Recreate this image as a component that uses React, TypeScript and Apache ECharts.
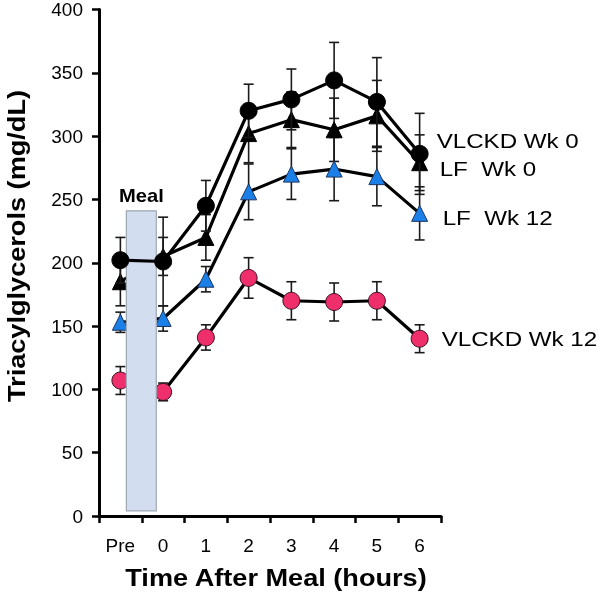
import React, { useEffect, useRef } from "react";
import * as echarts from "echarts";

const categories = ["Pre", "0", "1", "2", "3", "4", "5", "6"];
const seriesNames = ["VLCKD Wk 0", "LF  Wk 0", "LF  Wk 12", "VLCKD Wk 12"];

const vlckdWk0 = [202, 201, 245, 320, 329, 344, 327, 286];
const vlckdWk0Err = [18, 35, 20, 21, 24, 30, 35, 32];

const lfWk0 = [185, 205, 220, 302, 313, 305, 316, 279];
const lfWk0Err = [19, 15, 18, 23, 22, 25, 28, 22];

const lfWk12 = [153, 156, 187, 256, 270, 274, 268, 239];
const lfWk12Err = [8, 10, 10, 22, 20, 25, 23, 21];

const vlckdWk12 = [107, 98, 141, 188, 170, 169, 170, 140];
const vlckdWk12Err = [11, 7, 10, 16, 15, 15, 15, 11];

const yMin = 0;
const yMax = 400;
const yInterval = 50;

const mealLabel = "Meal";
const mealBottom = 4;
const mealTop = 241;

const xAxisTitle = "Time After Meal (hours)";
const yAxisTitle = "Triacylglycerols (mg/dL)";

const FONT = '"Liberation Sans", Arial, sans-serif';

function errorSeries(values: number[], errs: number[], z: number) {
  return {
    type: "custom",
    z,
    silent: true,
    data: values.map((v, i) => [i, v - errs[i], v + errs[i]]),
    encode: { x: 0, y: [1, 2] },
    renderItem: (params: any, api: any) => {
      const x = api.value(0);
      const lo = api.coord([x, api.value(1)]);
      const hi = api.coord([x, api.value(2)]);
      const cap = 5;
      const style = { stroke: "#1a1a1a", lineWidth: 1.6 };
      return {
        type: "group",
        children: [
          { type: "line", shape: { x1: lo[0], y1: lo[1], x2: hi[0], y2: hi[1] }, style },
          { type: "line", shape: { x1: lo[0] - cap, y1: lo[1], x2: lo[0] + cap, y2: lo[1] }, style },
          { type: "line", shape: { x1: hi[0] - cap, y1: hi[1], x2: hi[0] + cap, y2: hi[1] }, style },
        ],
      };
    },
  };
}

function lineSeries(name: string, values: number[], symbol: string, size: number, fill: string, border: string, z: number) {
  return {
    type: "line",
    name,
    z,
    data: values,
    symbol,
    symbolSize: size,
    showAllSymbol: true,
    lineStyle: { color: "#000", width: 3.2 },
    itemStyle: { color: fill, borderColor: border, borderWidth: 1 },
  };
}

const labelOffsets = [
  [17, -13],
  [20, 6],
  [23, 5],
  [22, 0],
];

export default function App() {
  const ref = useRef<HTMLDivElement>(null);
  useEffect(() => {
    if (!ref.current) return;
    const chart = echarts.init(ref.current, undefined, { renderer: "svg" });
    const lastValues = [vlckdWk0, lfWk0, lfWk12, vlckdWk12].map((a) => a[a.length - 1]);
    const lastIdx = categories.length - 1;

    const option: any = {
      animation: false,
      grid: { left: 99, right: 159, top: 8, bottom: 82, containLabel: false },
      xAxis: {
        type: "category",
        data: categories,
        boundaryGap: true,
        axisLine: { show: true, lineStyle: { color: "#000", width: 3 } },
        axisTick: { show: true, length: 7, interval: 0, lineStyle: { color: "#000", width: 2.5 } },
        axisLabel: { fontSize: 19, color: "#000", margin: 20, fontFamily: FONT, interval: 0 },
        splitLine: { show: false },
      },
      yAxis: {
        type: "value",
        min: yMin,
        max: yMax,
        interval: yInterval,
        axisLine: { show: true, lineStyle: { color: "#000", width: 3 } },
        axisTick: { show: true, length: 7, lineStyle: { color: "#000", width: 2.5 } },
        axisLabel: { fontSize: 19, color: "#000", margin: 16, fontFamily: FONT },
        splitLine: { show: false },
      },
      graphic: [
        {
          type: "text",
          x: 17,
          y: 246,
          rotation: Math.PI / 2,
          scaleX: 1.18,
          style: {
            text: yAxisTitle,
            font: `bold 23px ${FONT}`,
            fill: "#000",
            textAlign: "center",
            textVerticalAlign: "middle",
          },
        },
        {
          type: "text",
          x: 276,
          y: 578,
          scaleX: 1.18,
          style: {
            text: xAxisTitle,
            font: `bold 23px ${FONT}`,
            fill: "#000",
            textAlign: "center",
            textVerticalAlign: "middle",
          },
        },
      ],
      series: [
        errorSeries(lfWk12, lfWk12Err, 1),
        errorSeries(vlckdWk12, vlckdWk12Err, 1),
        errorSeries(lfWk0, lfWk0Err, 1),
        lineSeries(seriesNames[2], lfWk12, "triangle", 16, "#1a80e8", "#1d3560", 2),
        lineSeries(seriesNames[3], vlckdWk12, "circle", 17, "#ef2e6c", "#3a1020", 2),
        lineSeries(seriesNames[1], lfWk0, "triangle", 16, "#000", "#000", 2),
        {
          type: "custom",
          z: 3,
          silent: true,
          data: [[0, mealBottom, mealTop]],
          encode: { x: 0, y: [1, 2] },
          renderItem: (params: any, api: any) => {
            const p0 = api.coord([0, api.value(1)]);
            const p1 = api.coord([1, api.value(2)]);
            const band = api.size([1, 0])[0];
            const x0 = p0[0] + 0.14 * band;
            const x1 = p1[0] - 0.16 * band;
            return {
              type: "group",
              children: [
                {
                  type: "rect",
                  shape: { x: x0, y: p1[1], width: x1 - x0, height: p0[1] - p1[1] },
                  style: { fill: "#d2ddf0", stroke: "#9ea6b4", lineWidth: 1.2 },
                },
                {
                  type: "text",
                  x: (x0 + x1) / 2,
                  y: p1[1] - 15,
                  scaleX: 1.12,
                  style: {
                    text: mealLabel,
                    font: `bold 18px ${FONT}`,
                    fill: "#000",
                    textAlign: "center",
                    textVerticalAlign: "middle",
                  },
                },
              ],
            };
          },
        },
        errorSeries(vlckdWk0, vlckdWk0Err, 4),
        lineSeries(seriesNames[0], vlckdWk0, "circle", 17, "#000", "#000", 5),
        {
          type: "custom",
          z: 6,
          silent: true,
          data: lastValues.map((v) => [lastIdx, v]),
          encode: { x: 0, y: 1 },
          renderItem: (params: any, api: any) => {
            const i = params.dataIndex;
            const p = api.coord([api.value(0), api.value(1)]);
            return {
              type: "text",
              x: p[0] + labelOffsets[i][0],
              y: p[1] + labelOffsets[i][1],
              scaleX: 1.15,
              style: {
                text: seriesNames[i],
                font: `21px ${FONT}`,
                fill: "#000",
                textAlign: "left",
                textVerticalAlign: "middle",
              },
            };
          },
        },
      ],
    };
    chart.setOption(option);
    return () => chart.dispose();
  }, []);
  return <div ref={ref} style={{ position: "fixed", left: 0, top: 0, width: 600, height: 598 }} />;
}
